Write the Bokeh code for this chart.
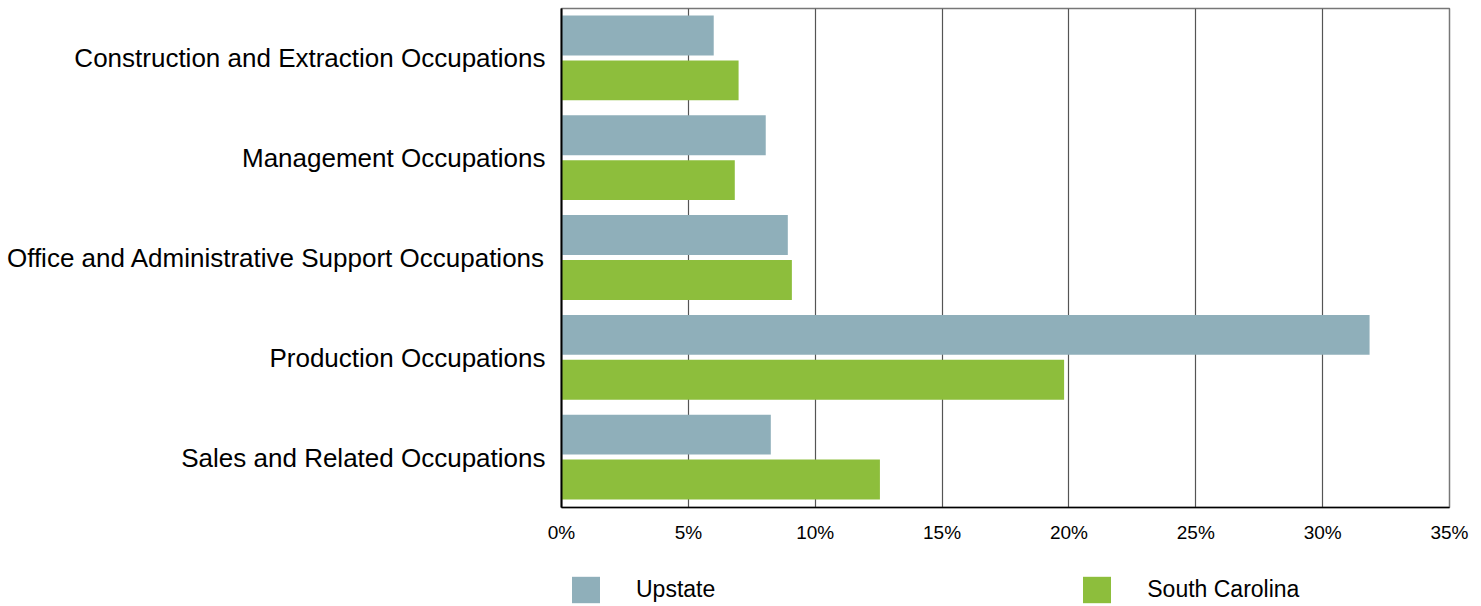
from bokeh.plotting import figure
from bokeh.layouts import column
from bokeh.models import Legend, LegendItem, FixedTicker, Range1d, ColumnDataSource
from bokeh.embed import file_html
from bokeh.resources import INLINE

categories = [
    "Construction and Extraction Occupations",
    "Management Occupations",
    "Office and Administrative Support Occupations",
    "Production Occupations",
    "Sales and Related Occupations",
]
upstate = [6.0, 8.05, 8.92, 31.85, 8.25]
south_carolina = [6.98, 6.83, 9.08, 19.81, 12.55]
x_ticks = [0, 5, 10, 15, 20, 25, 30, 35]
x_tick_labels = ["0%", "5%", "10%", "15%", "20%", "25%", "30%", "35%"]
series_names = ["Upstate", "South Carolina"]
series_colors = ["#8FAFBA", "#8DBE3C"]

FONT = "Liberation Sans"

pos = [i + 0.5 for i in range(len(categories))]
src = ColumnDataSource(dict(
    y_up=[p_ - 0.23 for p_ in pos],
    y_sc=[p_ + 0.22 for p_ in pos],
    up=upstate,
    sc=south_carolina,
))

p = figure(width=1481, height=555, output_backend="svg", toolbar_location=None,
           x_range=Range1d(0, 35), y_range=Range1d(len(categories), 0),
           min_border_left=561, min_border_right=32, min_border_top=8, min_border_bottom=48)

r1 = p.hbar(y="y_up", right="up", left=0, height=0.4, source=src,
            fill_color=series_colors[0], line_color=None)
r2 = p.hbar(y="y_sc", right="sc", left=0, height=0.4, source=src,
            fill_color=series_colors[1], line_color=None)

p.outline_line_color = "#777777"
p.outline_line_width = 1.5

# x axis
p.xaxis.ticker = FixedTicker(ticks=x_ticks)
p.xaxis.major_label_overrides = {t: l for t, l in zip(x_ticks, x_tick_labels)}
p.xaxis.major_tick_line_color = None
p.xaxis.minor_tick_line_color = None
p.xaxis.axis_line_color = "black"
p.xaxis.axis_line_width = 1.5
p.xaxis.major_label_text_font = FONT
p.xaxis.major_label_text_font_size = "19px"
p.xaxis.major_label_text_color = "black"
p.xaxis.major_label_standoff = 8

# y axis
p.yaxis.ticker = FixedTicker(ticks=pos)
p.yaxis.major_label_overrides = {t: c for t, c in zip(pos, categories)}
p.yaxis.major_tick_line_color = None
p.yaxis.minor_tick_line_color = None
p.yaxis.axis_line_color = "black"
p.yaxis.axis_line_width = 2
p.yaxis.major_label_text_font = FONT
p.yaxis.major_label_text_font_size = "26px"
p.yaxis.major_label_text_color = "black"
p.yaxis.major_label_standoff = 10

p.xgrid.grid_line_color = "#555555"
p.xgrid.grid_line_width = 1.2
p.ygrid.grid_line_color = None

# legend strip below the chart (its frame is aligned with the chart's frame)
lg = figure(width=1481, height=51, output_backend="svg", toolbar_location=None,
            x_range=Range1d(0, 1), y_range=Range1d(0, 1),
            min_border_left=561, min_border_right=32, min_border_top=0, min_border_bottom=0)
lg.axis.visible = False
lg.xgrid.visible = False
lg.ygrid.visible = False
lg.outline_line_color = None
lg.outline_line_alpha = 0
lg.background_fill_color = "white"
lg.border_fill_color = "white"
offscreen = ColumnDataSource(dict(y=[-5], right=[1]))
d1 = lg.hbar(y="y", right="right", left=0, height=0.4, source=offscreen,
             fill_color=series_colors[0], line_color=None)
d2 = lg.hbar(y="y", right="right", left=0, height=0.4, source=offscreen,
             fill_color=series_colors[1], line_color=None)

legend = Legend(items=[LegendItem(label=series_names[0], renderers=[d1]),
                       LegendItem(label=series_names[1], renderers=[d2])],
                orientation="horizontal", location=(7, 0),
                glyph_width=35, glyph_height=33, label_standoff=33, spacing=364,
                label_text_font=FONT, label_text_font_size="23px",
                label_text_color="black", border_line_color=None,
                background_fill_alpha=0,
                padding=0, margin=0, label_height=27)
lg.add_layout(legend, "center")

layout = column(p, lg, spacing=0)
open("out.html", "w").write(file_html(layout, INLINE))
